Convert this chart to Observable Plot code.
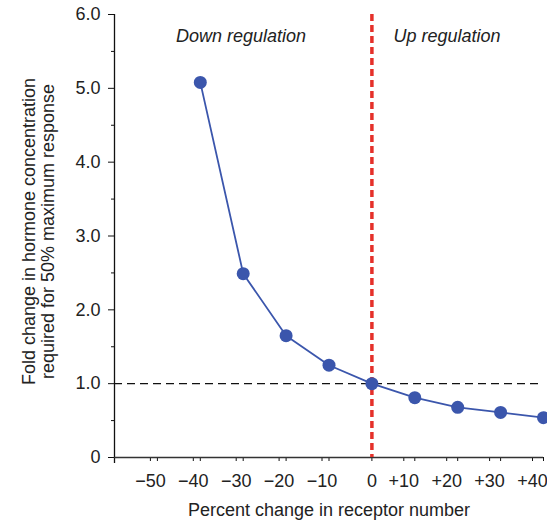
<!DOCTYPE html>
<html>
<head>
<meta charset="utf-8">
<script src="https://cdn.jsdelivr.net/npm/d3@7"></script>
<script src="https://cdn.jsdelivr.net/npm/@observablehq/plot@0.6"></script>
<style>
  html, body { margin: 0; padding: 0; background: #fff; }
  svg { display: block; }
</style>
</head>
<body>
<div id="chart"></div>
<script>
// Data
const percentChange = [-40, -30, -20, -10, 0, 10, 20, 30, 40];
const foldChange = [5.08, 2.49, 1.65, 1.25, 1.0, 0.81, 0.68, 0.61, 0.54];
const xTicksNeg = [-50, -40, -30, -20, -10];
const xTickZero = [0];
const xTicksPos = [10, 20, 30, 40];
const yTicksMajor = [0, 1, 2, 3, 4, 5, 6];
const yTicksMinor = [0.5, 1.5, 2.5, 3.5, 4.5, 5.5];
const regionLabels = ["Down regulation", "Up regulation"];
const regionX = [-30.5, 17.5];
const regionY = [5.7, 5.7];
const xTitle = "Percent change in receptor number";
const yTitle = "Fold change in hormone concentration\nrequired for 50% maximum response";

const points = percentChange.map((x, i) => ({x, y: foldChange[i]}));
const regions = regionLabels.map((t, i) => ({t, x: regionX[i], y: regionY[i]}));

const fmtX = d => d === 0 ? "0" : (d < 0 ? "\u2212" + Math.abs(d) : "+" + d);
const fmtY = d => d === 0 ? "0" : d.toFixed(1);

const font = "'Liberation Sans', Arial, Helvetica, sans-serif";
const blue = "#3b56ac";

const chart = Plot.plot({
  width: 547,
  height: 526,
  marginLeft: 114,
  marginRight: 4,
  marginTop: 14,
  marginBottom: 69,
  style: {fontFamily: font, fontSize: "18px", color: "#222", background: "#fff"},
  x: {domain: [-60, 40]},
  y: {domain: [0, 6]},
  marks: [
    // y axis (major and minor ticks)
    Plot.axisY({ticks: yTicksMajor, tickFormat: fmtY, tickSize: 6, tickPadding: 8, label: null, fontSize: 18, stroke: "#111"}),
    Plot.axisY({ticks: yTicksMinor, tickFormat: () => "", tickSize: 3, label: null, stroke: "#111"}),
    // x axis ticks and labels
    Plot.axisX({ticks: xTicksNeg, tickFormat: fmtX, tickSize: 4, tickPadding: 13, label: null, fontSize: 18, dx: -7, stroke: "#111"}),
    Plot.axisX({ticks: xTicksNeg, tickFormat: () => "", tickSize: 4, label: null, stroke: "#111"}),
    Plot.axisX({ticks: xTickZero, tickFormat: fmtX, tickSize: 4, tickPadding: 13, label: null, fontSize: 18, stroke: "#111"}),
    Plot.axisX({ticks: xTicksPos, tickFormat: fmtX, tickSize: 4, tickPadding: 13, label: null, fontSize: 18, dx: -11, stroke: "#111"}),
    Plot.axisX({ticks: xTicksPos, tickFormat: () => "", tickSize: 4, label: null, stroke: "#111"}),
    // axis lines
    Plot.ruleX([-60], {y1: -0.08, y2: 6, stroke: "#111", strokeWidth: 1.3}),
    Plot.ruleY([0], {stroke: "#333", strokeWidth: 1.3}),
    // reference lines
    Plot.ruleY([1], {stroke: "#111", strokeWidth: 1.3, strokeDasharray: "8,5"}),
    Plot.ruleX([0], {stroke: "#e5302a", strokeWidth: 3.5, strokeDasharray: "7,4"}),
    // data
    Plot.line(points, {x: "x", y: "y", stroke: blue, strokeWidth: 1.8}),
    Plot.dot(points, {x: "x", y: "y", r: 6.5, fill: blue, stroke: "none"}),
    // region labels
    Plot.text(regions, {x: "x", y: "y", text: "t", fontStyle: "italic", fontSize: 18, fill: "#222"}),
    // axis titles
    Plot.text([xTitle], {frameAnchor: "bottom", text: d => d, textAnchor: "middle", lineAnchor: "middle", dy: 53, fontSize: 18, fill: "#222"}),
    Plot.text([yTitle], {frameAnchor: "left", text: d => d, textAnchor: "middle", lineAnchor: "middle", rotate: -90, dx: -76.5, dy: -4.5, fontSize: 18, lineHeight: 1.05, fill: "#222"})
  ]
});

document.getElementById("chart").appendChild(chart);
</script>
</body>
</html>
